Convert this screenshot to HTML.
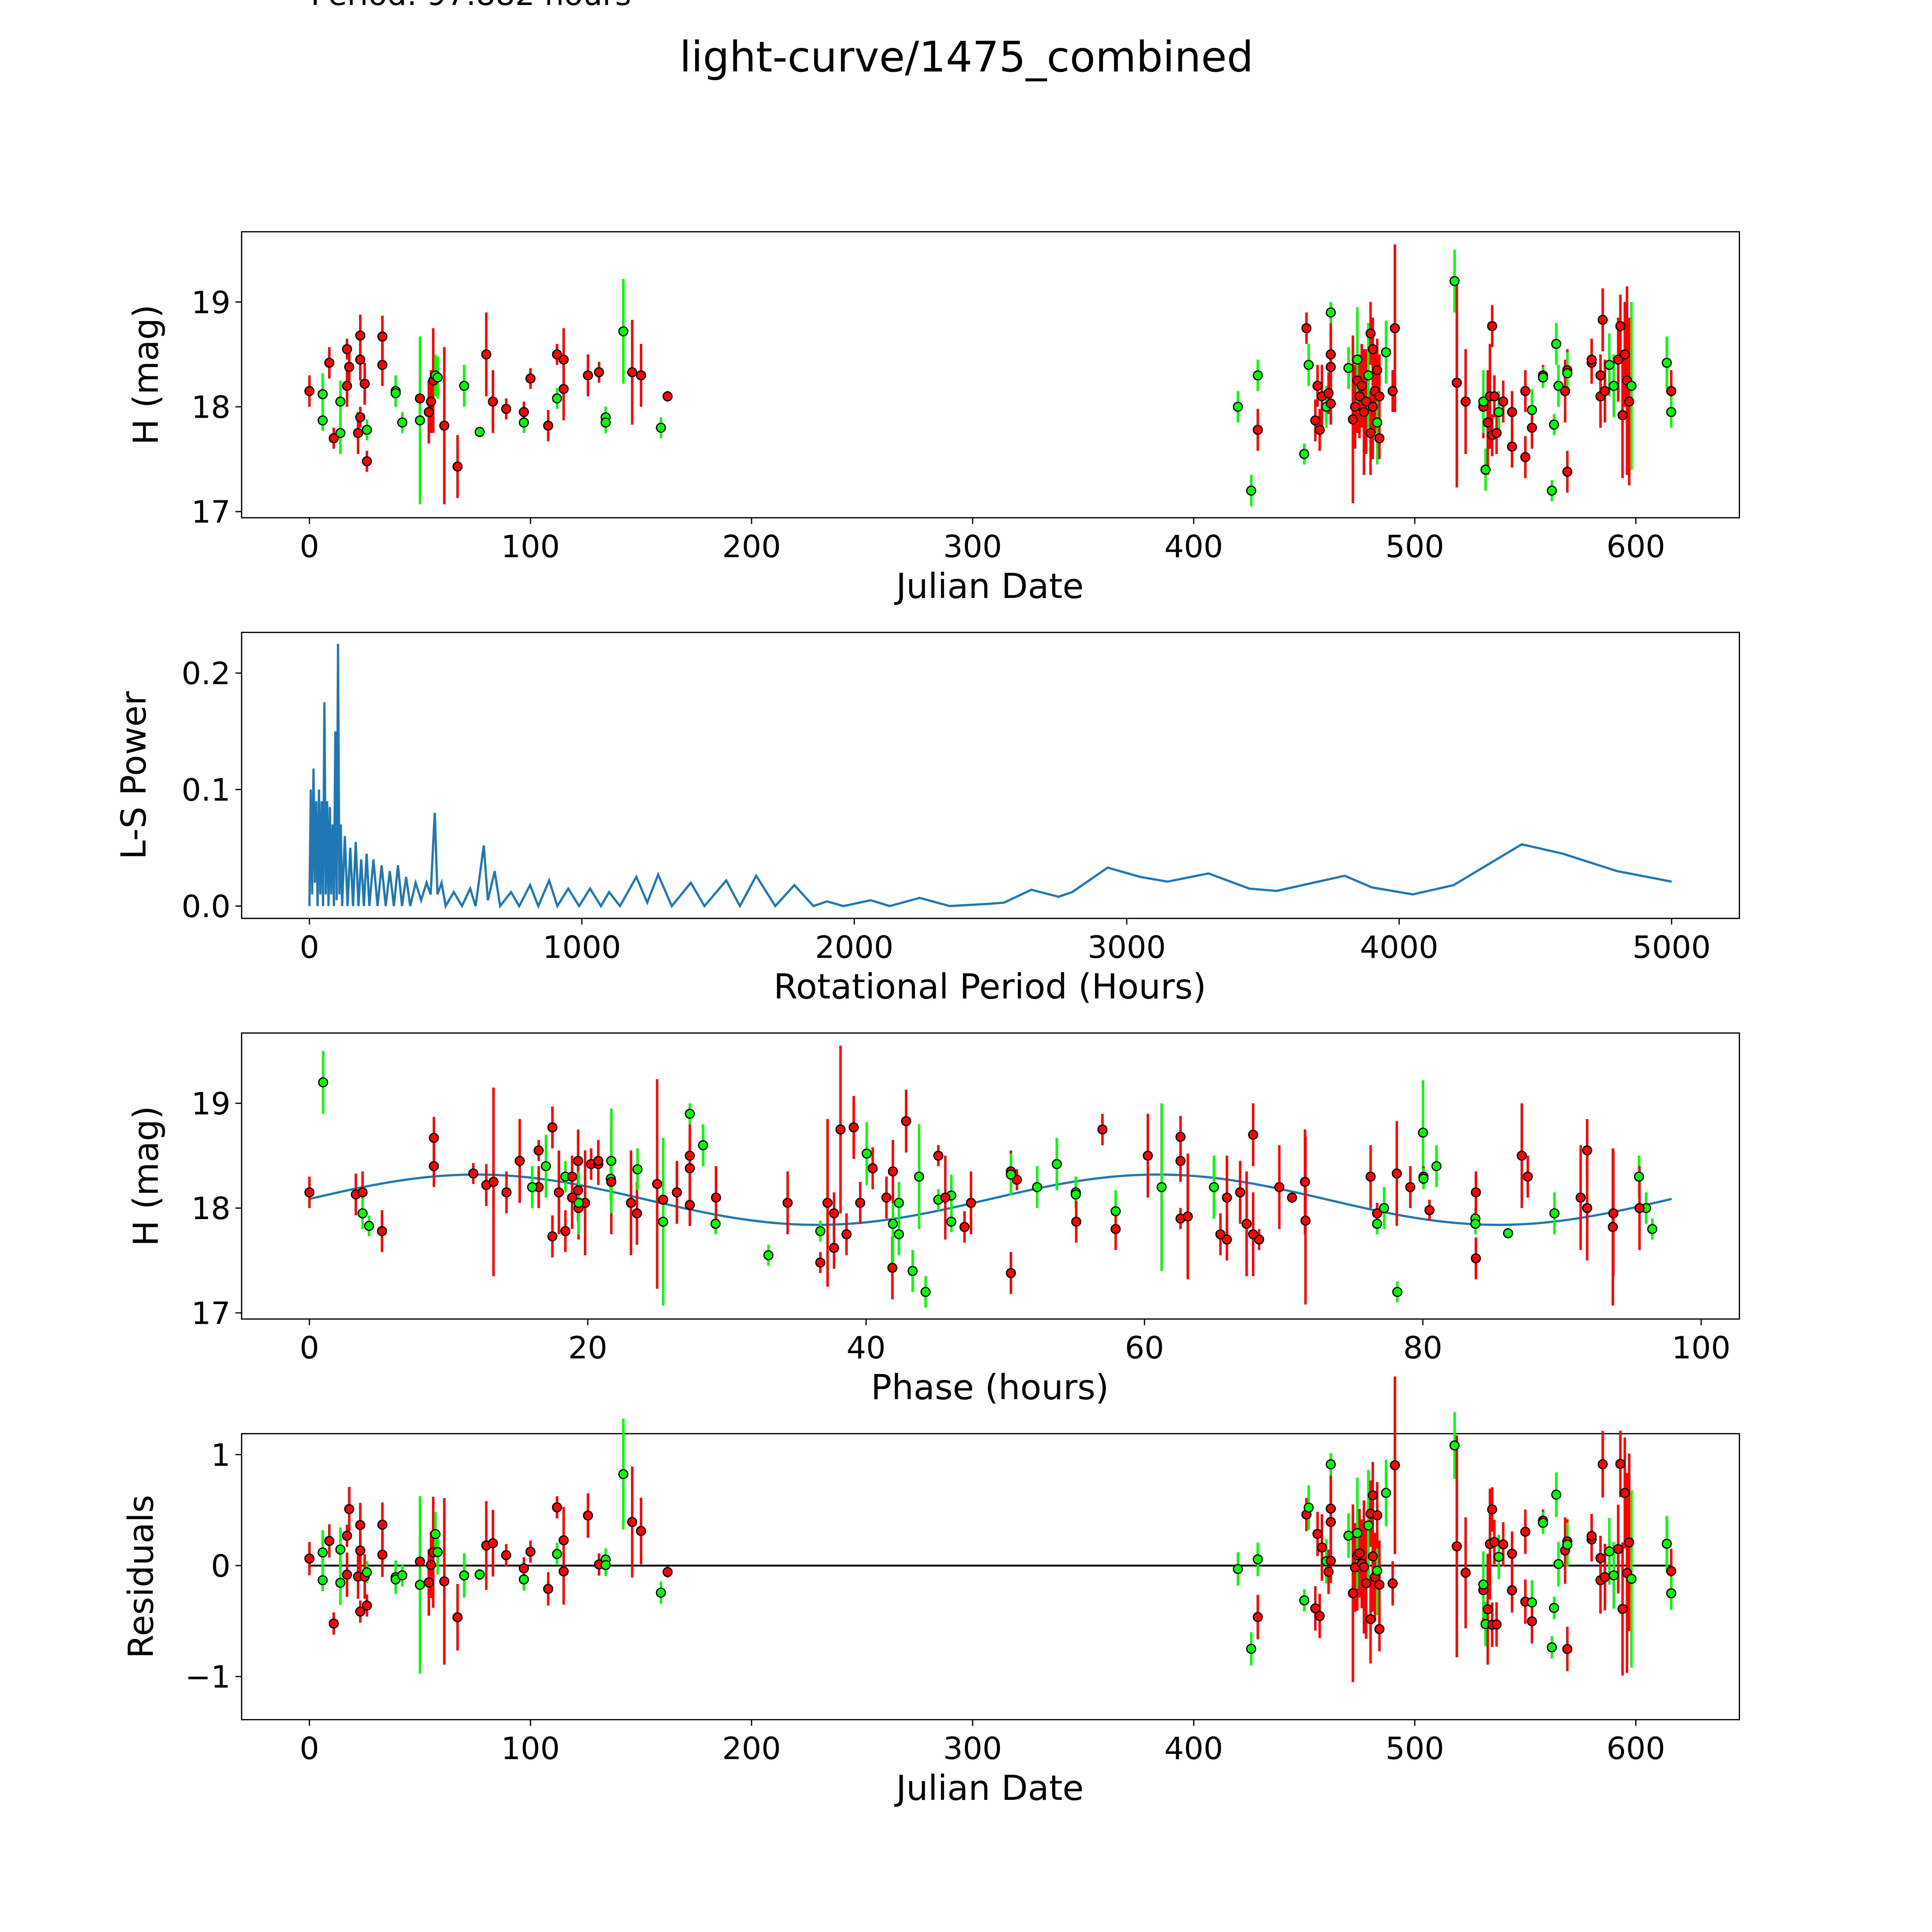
<!DOCTYPE html>
<html><head><meta charset="utf-8"><style>
html,body{margin:0;padding:0;background:#fff;overflow:hidden}
svg{display:block;width:100vw;height:100vh}
text{font-family:"DejaVu Sans","Liberation Sans",sans-serif;fill:#000}
</style></head><body>
<svg id="fig" xmlns="http://www.w3.org/2000/svg" viewBox="0 0 1550 1550" preserveAspectRatio="xMidYMid meet">
<rect width="1550" height="1550" fill="#fff"/>
<g transform="scale(0.989)">
<text x="252" y="4" font-size="25">Period: 97.882 hours</text>
<text x="784" y="58" font-size="34" text-anchor="middle">light-curve/1475_combined</text>
<g id="layer"></g>
</g>
</svg>
<script>
const times=[0,6,6,9,11,14,14,17,17,18,22,23,23,23,25,26,26,33,33,39,39,42,50,50,54,55,56,57,58,61,67,70,77,80,83,89,97,97,100,108,112,112,115,115,126,131,134,134,142,146,150,159,162,
420,426,429,429,450,451,452,455,456,457,458,460,461,462,462,462,462,470,472,473,474,474,475,476,477,478,479,480,480,481,481,482,483,483,484,484,487,490,491,518,519,523,531,531,532,533,534,535,535,536,537,538,540,544,544,550,550,553,553,558,558,562,563,564,565,568,569,569,569,580,580,584,584,585,586,588,590,592,593,594,595,596,597,598,614,616,616];
const mags=[18.15,17.87,18.12,18.42,17.7,17.75,18.05,18.55,18.2,18.38,17.75,18.68,18.45,17.9,18.22,17.48,17.78,18.67,18.4,18.15,18.13,17.85,18.08,17.87,17.95,18.05,18.25,18.3,18.28,17.82,17.43,18.2,17.76,18.5,18.05,17.98,17.85,17.95,18.27,17.82,18.08,18.5,18.45,18.17,18.3,18.33,17.9,17.85,18.72,18.33,18.3,17.8,18.1,
18.0,17.2,18.3,17.78,17.55,18.75,18.4,17.87,18.2,17.78,18.1,18.0,18.13,18.38,18.03,18.5,18.9,18.37,17.88,18.0,18.25,18.45,18.1,18.2,17.95,18.05,18.3,17.75,18.7,18.0,18.55,18.15,17.85,18.35,17.7,18.1,18.52,18.15,18.75,19.2,18.23,18.05,18.0,18.05,17.4,17.85,18.1,17.73,18.77,18.1,17.75,17.95,18.05,17.62,17.95,18.15,17.52,17.97,17.8,18.3,18.28,17.2,17.83,18.6,18.2,18.15,18.35,17.38,18.32,18.42,18.45,18.1,18.3,18.83,18.15,18.4,18.2,18.45,18.77,17.92,18.5,18.25,18.05,18.2,18.42,18.15,17.95];
const errs=[0.15,0.1,0.2,0.15,0.1,0.2,0.2,0.1,0.2,0.2,0.2,0.2,0.2,0.1,0.2,0.1,0.1,0.2,0.2,0.15,0.1,0.1,0.2,0.8,0.3,0.3,0.5,0.2,0.2,0.75,0.3,0.2,0.05,0.4,0.3,0.1,0.1,0.1,0.1,0.15,0.1,0.1,0.3,0.3,0.2,0.1,0.1,0.1,0.5,0.5,0.3,0.1,0.05,
0.15,0.15,0.15,0.2,0.1,0.15,0.2,0.2,0.2,0.2,0.3,0.2,0.2,0.3,0.2,0.3,0.1,0.2,0.8,0.4,0.5,0.5,0.4,0.4,0.6,0.5,0.5,0.4,0.3,0.5,0.3,0.4,0.4,0.3,0.2,0.4,0.3,0.2,0.8,0.3,1.0,0.5,0.3,0.3,0.2,0.5,0.5,0.2,0.2,0.2,0.2,0.2,0.2,0.2,0.2,0.2,0.2,0.2,0.2,0.1,0.1,0.1,0.1,0.2,0.2,0.3,0.2,0.2,0.2,0.2,0.2,0.3,0.2,0.3,0.3,0.3,0.3,0.4,0.3,0.6,0.5,0.9,0.8,0.8,0.25,0.2,0.15];
const filters="rggrrggrrrrrrrrrgrrgggrgrrrggrrggrrrgrrrgrrrrrgggrrgr"+"gggrgrgrrrrgrrrrggrrrgrrrrgrrrrrgrrrgrrgrrrggrrrrrrgrrrrrgrrgggggrrrgrrrrrrggrrrrrrggrggrrr";
const periods=[0,5,10,15,20,25,30,35,40,45,50,55,60,65,70,75,80,85,90,95,100,105,110,115,120,130,140,150,160,170,180,190,200,210,220,235,250,265,280,295,310,325,340,355,370,390,410,430,445,460,470,485,500,530,560,590,610,640,655,680,700,740,770,810,840,880,910,950,990,1030,1070,1100,1140,1200,1240,1280,1330,1400,1450,1530,1580,1640,1710,1780,1850,1900,1960,2060,2130,2240,2350,2500,2550,2650,2750,2800,2930,3050,3150,3300,3450,3550,3800,3900,4050,4200,4450,4600,4800,5000];
const powers=[0,0.10,0.01,0.118,0.02,0.09,0,0.10,0.01,0.09,0,0.175,0.01,0.09,0,0.085,0.01,0.07,0,0.15,0.005,0.225,0.01,0.07,0,0.06,0,0.05,0,0.055,0,0.04,0,0.045,0,0.04,0,0.035,0,0.03,0,0.035,0,0.025,0,0.02,0.005,0.02,0.01,0.08,0.01,0.02,0,0.012,0,0.015,0,0.052,0.005,0.03,0,0.012,0,0.018,0,0.022,0,0.015,0,0.015,0,0.012,0,0.025,0.003,0.027,0,0.02,0,0.022,0,0.026,0,0.018,0,0.004,0,0.005,0,0.007,0,0.002,0.003,0.014,0.008,0.012,0.033,0.025,0.021,0.028,0.015,0.013,0.026,0.016,0.01,0.018,0.053,0.045,0.03,0.021];
const xTicksDate=[0,100,200,300,400,500,600];
const xTicksPeriod=[0,1000,2000,3000,4000,5000];
const xTicksPhase=[0,20,40,60,80,100];
const yTicksMag=[17,18,19];
const yTicksPow=[0.0,0.1,0.2];
const yTicksRes=[-1,0,1];
const PERIOD=97.882, MEAN=18.08, AMP=0.24, PHI=0.03;

const NS="http://www.w3.org/2000/svg";
const layer=document.getElementById('layer');
function mk(tag,attrs,parent){const e=document.createElementNS(NS,tag);for(const k in attrs)e.setAttribute(k,attrs[k]);(parent||layer).appendChild(e);return e;}
function model(ph){return MEAN+AMP*Math.sin(4*Math.PI*ph/PERIOD+PHI);}
function lin(d0,d1,p0,p1){return v=>p0+(v-d0)*(p1-p0)/(d1-d0);}

function axes(name,top,sx,sy,xt,yt,xlab,ylab,ylx,fmtY,fmtX){
  const g=mk('g',{});
  
  
  const fr=mk('rect',{x:196,y:top,width:1215,height:232,fill:'none',stroke:'#000','stroke-width':1},g);
  
  
  xt.forEach(v=>{const x=sx(v);mk('line',{x1:x,x2:x,y1:top+232,y2:top+237,stroke:'#000'},g);
    const t=mk('text',{x:x,y:top+264,'font-size':25,'text-anchor':'middle'},g);t.textContent=fmtX?fmtX(v):String(v);
    });
  yt.forEach(v=>{const y=sy(v);mk('line',{x1:191,x2:196,y1:y,y2:y,stroke:'#000'},g);
    const t=mk('text',{x:187,y:y+9,'font-size':25,'text-anchor':'end'},g);t.textContent=fmtY?fmtY(v):String(v);
    });
  const xl=mk('text',{x:803,y:top+297,'font-size':28,'text-anchor':'middle'},g);xl.textContent=xlab;
  
  const yl=mk('text',{x:0,y:0,'font-size':28,'text-anchor':'middle',transform:`translate(${ylx},${top+116}) rotate(-90)`},g);yl.textContent=ylab;
  
  return g;
}
function points(g,xs,ys,es){
  xs.forEach((xv,i)=>{const col=filters[i]==='g'?'#00ff00':'#ff0000';
    const l=mk('line',{x1:xv,x2:xv,y1:es[i][0],y2:es[i][1],stroke:col,'stroke-width':2},g);
    });
  xs.forEach((xv,i)=>{const col=filters[i]==='g'?'#00ff00':'#ff0000';
    const c=mk('circle',{cx:xv,cy:ys[i],r:3.6,fill:col,stroke:'#000','stroke-width':1},g);
    });
}
const fmt1=v=>v.toFixed(1);
const fmtM=v=>v<0?'\u2212'+Math.abs(v):String(v);

let sx=lin(0,600,251,1327), sy=lin(17,19,415,245);
let g=axes('light-curve-panel',188,sx,sy,xTicksDate,yTicksMag,'Julian Date','H (mag)',128);
points(g,times.map(sx),mags.map(sy),mags.map((m,i)=>[sy(m-errs[i]),sy(m+errs[i])]));

sx=lin(0,5000,251,1356); sy=lin(0,0.2,735,546);
g=axes('periodogram-panel',513,sx,sy,xTicksPeriod,yTicksPow,'Rotational Period (Hours)','L-S Power',118,fmt1);
let p=mk('path',{d:periods.map((v,i)=>(i?'L':'M')+sx(v).toFixed(2)+','+sy(powers[i]).toFixed(2)).join(''),fill:'none',stroke:'#1f77b4','stroke-width':1.8},g);


const phases=times.map(t=>(t*24)%PERIOD);
sx=lin(0,100,251,1380); sy=lin(17,19,1065,895);
g=axes('phase-panel',838,sx,sy,xTicksPhase,yTicksMag,'Phase (hours)','H (mag)',128);
let d='';for(let k=0;k<=200;k++){const ph=PERIOD*k/200;d+=(k?'L':'M')+sx(ph).toFixed(2)+','+sy(model(ph)).toFixed(2);}
p=mk('path',{d:d,fill:'none',stroke:'#1f77b4','stroke-width':1.8},g);

points(g,phases.map(sx),mags.map(sy),mags.map((m,i)=>[sy(m-errs[i]),sy(m+errs[i])]));

const resid=mags.map((m,i)=>m-model(phases[i]));
sx=lin(0,600,251,1327); sy=lin(-1,1,1360,1180);
g=axes('residuals-panel',1163,sx,sy,xTicksDate,yTicksRes,'Julian Date','Residuals',124,fmtM);
const zl=mk('line',{x1:sx(0),x2:sx(616),y1:sy(0),y2:sy(0),stroke:'#000','stroke-width':1.5},g);

points(g,times.map(sx),resid.map(sy),resid.map((r,i)=>[sy(r-errs[i]),sy(r+errs[i])]));
</script>
</body></html>
